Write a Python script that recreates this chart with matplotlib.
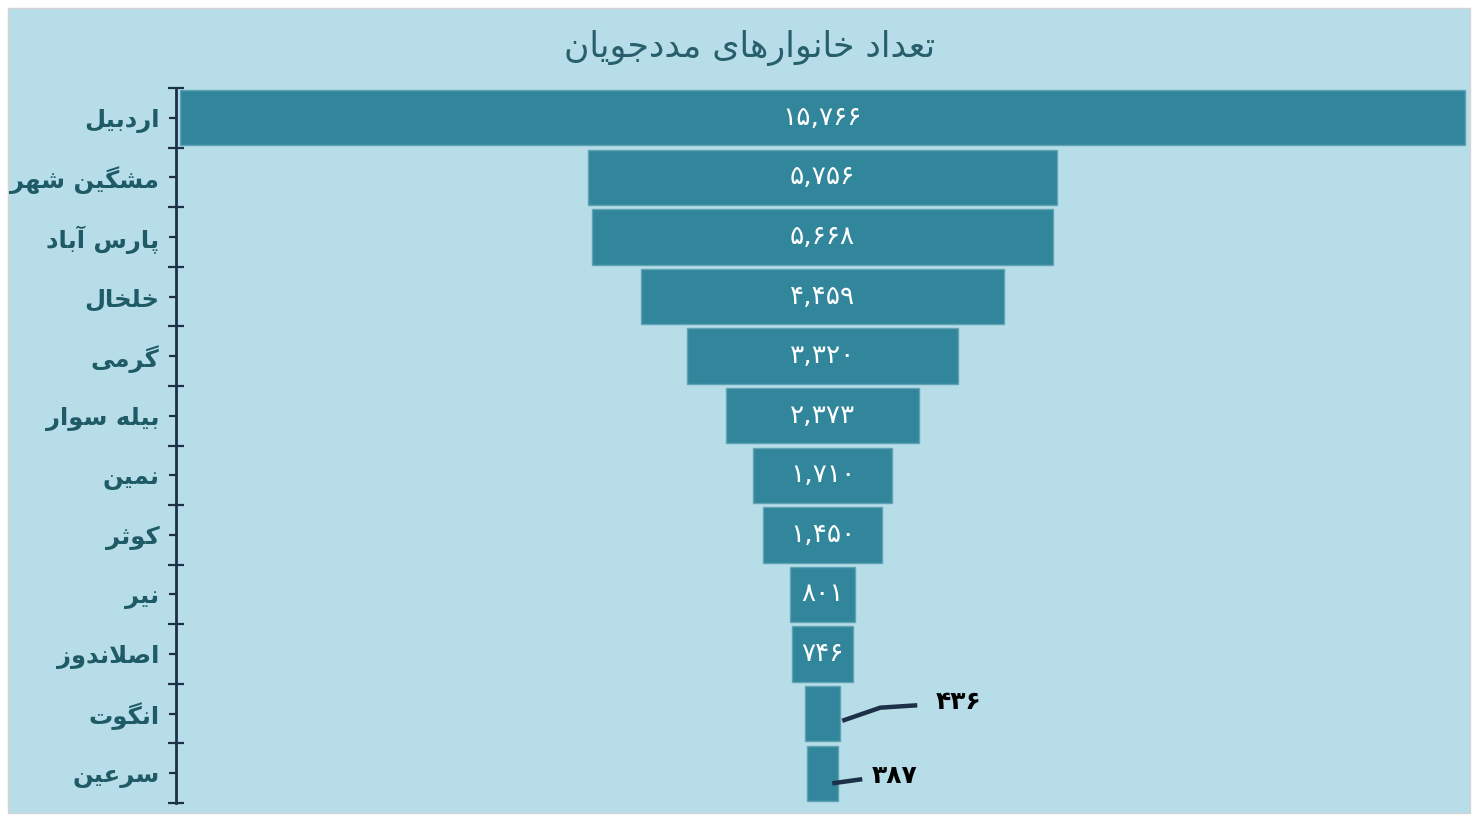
import matplotlib
matplotlib.use("Agg")
import matplotlib.pyplot as plt
from matplotlib.patches import Rectangle
import numpy as np

# ---------------- data ----------------
title = "تعداد خانوارهای مددجویان"
categories = ["اردبیل", "مشگین شهر", "پارس آباد", "خلخال", "گرمی", "بیله سوار",
              "نمین", "کوثر", "نیر", "اصلاندوز", "انگوت", "سرعین"]
values = [15766, 5756, 5668, 4459, 3320, 2373, 1710, 1450, 801, 746, 436, 387]
outside = [False] * 10 + [True, True]

# ---------------- minimal Arabic/Persian shaping ----------------
FORMS = {  # iso, fin, ini, med
    "\u0627": (0xFE8D, 0xFE8E), "\u0622": (0xFE81, 0xFE82),
    "\u062F": (0xFEA9, 0xFEAA), "\u0630": (0xFEAB, 0xFEAC),
    "\u0631": (0xFEAD, 0xFEAE), "\u0632": (0xFEAF, 0xFEB0),
    "\u0698": (0xFB8A, 0xFB8B), "\u0648": (0xFEED, 0xFEEE),
    "\u0628": (0xFE8F, 0xFE90, 0xFE91, 0xFE92), "\u067E": (0xFB56, 0xFB57, 0xFB58, 0xFB59),
    "\u062A": (0xFE95, 0xFE96, 0xFE97, 0xFE98), "\u062B": (0xFE99, 0xFE9A, 0xFE9B, 0xFE9C),
    "\u062C": (0xFE9D, 0xFE9E, 0xFE9F, 0xFEA0), "\u0686": (0xFB7A, 0xFB7B, 0xFB7C, 0xFB7D),
    "\u062D": (0xFEA1, 0xFEA2, 0xFEA3, 0xFEA4), "\u062E": (0xFEA5, 0xFEA6, 0xFEA7, 0xFEA8),
    "\u0633": (0xFEB1, 0xFEB2, 0xFEB3, 0xFEB4), "\u0634": (0xFEB5, 0xFEB6, 0xFEB7, 0xFEB8),
    "\u0635": (0xFEB9, 0xFEBA, 0xFEBB, 0xFEBC), "\u0636": (0xFEBD, 0xFEBE, 0xFEBF, 0xFEC0),
    "\u0637": (0xFEC1, 0xFEC2, 0xFEC3, 0xFEC4), "\u0638": (0xFEC5, 0xFEC6, 0xFEC7, 0xFEC8),
    "\u0639": (0xFEC9, 0xFECA, 0xFECB, 0xFECC), "\u063A": (0xFECD, 0xFECE, 0xFECF, 0xFED0),
    "\u0641": (0xFED1, 0xFED2, 0xFED3, 0xFED4), "\u0642": (0xFED5, 0xFED6, 0xFED7, 0xFED8),
    "\u06A9": (0xFB8E, 0xFB8F, 0xFB90, 0xFB91), "\u06AF": (0xFB92, 0xFB93, 0xFB94, 0xFB95),
    "\u0644": (0xFEDD, 0xFEDE, 0xFEDF, 0xFEE0), "\u0645": (0xFEE1, 0xFEE2, 0xFEE3, 0xFEE4),
    "\u0646": (0xFEE5, 0xFEE6, 0xFEE7, 0xFEE8), "\u0647": (0xFEE9, 0xFEEA, 0xFEEB, 0xFEEC),
    "\u06CC": (0xFBFC, 0xFBFD, 0xFBFE, 0xFBFF),
}
LAMALEF = {"\u0627": (0xFEFB, 0xFEFC), "\u0622": (0xFEF5, 0xFEF6)}


def dual(c):
    return c in FORMS and len(FORMS[c]) == 4


def shape(text):
    out = []
    n = len(text)
    i = 0
    last_lig = False
    while i < n:
        c = text[i]
        prev_join = i > 0 and dual(text[i - 1]) and not last_lig
        last_lig = False
        if c not in FORMS:
            out.append(c)
            i += 1
            continue
        if c == "\u0644" and i + 1 < n and text[i + 1] in LAMALEF:
            f = LAMALEF[text[i + 1]]
            out.append(chr(f[1] if prev_join else f[0]))
            i += 2
            last_lig = True
            continue
        nxt = text[i + 1] if i + 1 < n else ""
        next_join = dual(c) and nxt in FORMS
        f = FORMS[c]
        if prev_join and next_join:
            g = f[3]
        elif prev_join:
            g = f[1]
        elif next_join:
            g = f[2]
        else:
            g = f[0]
        out.append(chr(g))
        i += 1
    return "".join(out)[::-1]


FA_DIGITS = str.maketrans("0123456789", "۰۱۲۳۴۵۶۷۸۹")


def fa_num(v):
    return f"{v:,}".translate(FA_DIGITS)


# ---------------- style ----------------
BG = "#b7dde8"
BAR = "#31869b"
BAR_EDGE = "#5fa3b4"
AXIS = "#1d3049"
LABEL = "#1f5a67"
TITLE = "#285f6c"

W, H = 1475, 817
fig = plt.figure(figsize=(W / 100, H / 100), dpi=100, facecolor="white")
fig.add_artist(Rectangle((8 / W, 1 - 813 / H), (1470 - 8) / W, (813 - 8) / H,
                         transform=fig.transFigure, facecolor=BG,
                         edgecolor="#d4d4d4", linewidth=1.0, zorder=0))

ax_left, ax_right = 176, 1469
ax_top, ax_bot = 88, 803
ax = fig.add_axes([ax_left / W, 1 - ax_bot / H, (ax_right - ax_left) / W, (ax_bot - ax_top) / H])
ax.set_facecolor("none")

vmax = max(values)
M = vmax / 2 * (ax_right - ax_left) / 1285
ax.set_xlim(-M, M)
ax.set_ylim(len(values) - 0.5, -0.5)

y = np.arange(len(values))
vals = np.array(values, dtype=float)
ax.barh(y, vals, left=-vals / 2, height=0.93, color=BAR, edgecolor=BAR_EDGE, linewidth=1.0, zorder=2)

# axis styling
for s in ["top", "right", "bottom"]:
    ax.spines[s].set_visible(False)
ax.spines["left"].set_color(AXIS)
ax.spines["left"].set_linewidth(2.0)
ax.set_xticks([])
ax.set_yticks(np.arange(len(values) + 1) - 0.5)
ax.set_yticklabels([])
ax.set_yticks(y, minor=True)
ax.set_yticklabels([shape(c) for c in categories], minor=True)
ax.tick_params(axis="y", which="major", direction="inout", length=11, width=1.6, color=AXIS)
ax.tick_params(axis="y", which="minor", direction="out", length=5, width=1.6, color=AXIS,
               pad=7, labelsize=17.5, labelcolor=LABEL)
for t in ax.get_yticklabels(minor=True):
    t.set_fontweight("bold")

# value labels
for i, (v, out) in enumerate(zip(values, outside)):
    if not out:
        ax.text(0, i, fa_num(v), ha="center", va="center", color="white", fontsize=19, zorder=3)

px = 2 * M / (ax_right - ax_left)  # data units per pixel
# leader lines for the small bars
i = 10
v = values[i]
ax.plot([v / 2 + 2 * px, v / 2 + 40 * px, v / 2 + 77 * px], [i + 0.12, i - 0.1, i - 0.14],
        color=AXIS, linewidth=3.2, solid_capstyle="butt", zorder=4)
ax.text(v / 2 + 95 * px, i - 0.2, fa_num(v), ha="left", va="center", color="black",
        fontsize=18, fontweight="bold", zorder=4)
i = 11
v = values[i]
ax.plot([v / 2 - 6 * px, v / 2 + 24 * px], [i + 0.17, i + 0.1],
        color=AXIS, linewidth=3.2, solid_capstyle="butt", zorder=4)
ax.text(v / 2 + 33 * px, i + 0.05, fa_num(v), ha="left", va="center", color="black",
        fontsize=18, fontweight="bold", zorder=4)

fig.text(750 / W, 1 - 48 / H, shape(title), ha="center", va="center", fontsize=25, color=TITLE)

fig.savefig("out.png", dpi=100, facecolor="white")
